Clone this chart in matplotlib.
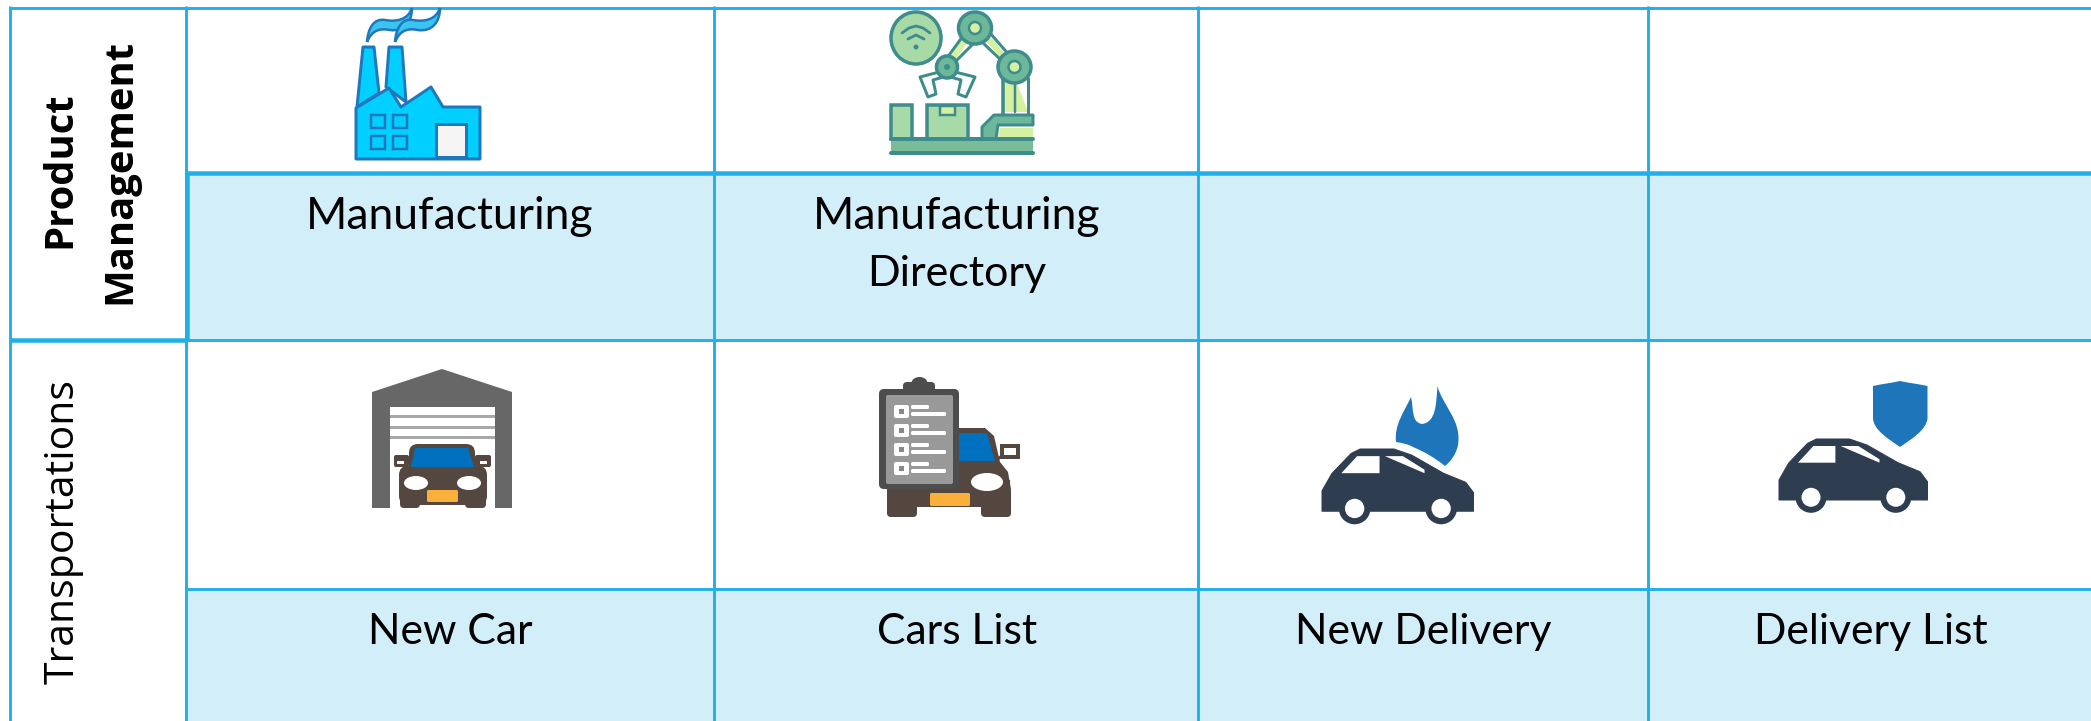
#!/usr/bin/env python
import matplotlib as mpl
mpl.use('Agg')
import matplotlib.pyplot as plt
from matplotlib.patches import Polygon, Rectangle, Ellipse, FancyBboxPatch, PathPatch
from matplotlib.path import Path

# table content
groups = ['Product\nManagement', 'Transportations']
row1_labels = ['Manufacturing', 'Manufacturing\nDirectory', '', '']
row2_labels = ['New Car', 'Cars List', 'New Delivery', 'Delivery List']

line_c = '#1FB0EA'
fill_c = '#D2EEF9'
W, H = 2091, 721
px = 0.72  # points per pixel at dpi 100

fig = plt.figure(figsize=(W/100, H/100), dpi=100)
ax = fig.add_axes([0, 0, 1, 1])
ax.set_xlim(0, W)
ax.set_ylim(H, 0)
ax.axis('off')

def poly(pts, fc, ec='none', lw=0, z=3, join='round'):
    ax.add_patch(Polygon(pts, closed=True, fc=fc, ec=ec, lw=lw*px, zorder=z, joinstyle=join))

def rect(x0, y0, x1, y1, fc, ec='none', lw=0, z=3):
    ax.add_patch(Rectangle((x0, y0), x1-x0, y1-y0, fc=fc, ec=ec, lw=lw*px, zorder=z))

def rrect(x0, y0, x1, y1, fc, r=2, z=3, ec='none', lw=0):
    ax.add_patch(FancyBboxPatch((x0+r, y0+r), x1-x0-2*r, y1-y0-2*r, boxstyle='round,pad=%g,rounding_size=%g' % (r, r),
                                fc=fc, ec=ec, lw=lw*px, zorder=z))

def oval(cx, cy, rx, ry, fc, ec='none', lw=0, z=3):
    ax.add_patch(Ellipse((cx, cy), 2*rx, 2*ry, fc=fc, ec=ec, lw=lw*px, zorder=z))

def seg(xs, ys, c, lw, z=3):
    ax.plot(xs, ys, color=c, lw=lw*px, zorder=z, solid_capstyle='round', solid_joinstyle='round')

def curve(pts, fc, ec='none', lw=0, z=3):
    codes = [Path.MOVETO] + [Path.CURVE4]*(len(pts)-1)
    ax.add_patch(PathPatch(Path(pts, codes), fc=fc, ec=ec, lw=lw*px, zorder=z))

# cell fills and grid
col_x = [185.5, 714, 1198, 1648]
thin = 2.9
rect(185, 173, W, 340, fill_c, z=1)
rect(185, 589, W, H, fill_c, z=1)

for x in [10] + col_x:
    ax.plot([x, x], [6, H], color=line_c, lw=thin*px, zorder=2, solid_capstyle='butt')
ax.plot([10, W], [7.5, 7.5], color=line_c, lw=thin*px, zorder=2, solid_capstyle='butt')
ax.plot([185, W], [173, 173], color=line_c, lw=4.5*px, zorder=2, solid_capstyle='butt')
ax.plot([185, W], [340, 340], color=line_c, lw=thin*px, zorder=2, solid_capstyle='butt')
ax.plot([10, 187], [340, 340], color=line_c, lw=4.5*px, zorder=2, solid_capstyle='butt')
ax.plot([186.5, 186.5], [173, 340], color=line_c, lw=4.5*px, zorder=2, solid_capstyle='butt')
ax.plot([185, W], [589, 589], color=line_c, lw=thin*px, zorder=2, solid_capstyle='butt')

# texts
for cx, s in zip([450, 957, 1423, 1871], row2_labels):
    ax.text(cx, 644, s, ha='center', va='baseline', fontsize=30.7, family='Lato', color='black', zorder=5)
row1_sizes = [32, 31]
for cx, s in zip([450, 957, 1423, 1871], row1_labels):
    for i, part in enumerate(s.split('\n')):
        ax.text(cx, 229 + 57*i, part, ha='center', va='baseline', fontsize=row1_sizes[i], family='Lato', color='black', zorder=5)

prod, mgmt = groups[0].split('\n')
ax.text(70, 170, prod, rotation=90, ha='center', va='baseline', rotation_mode='anchor',
        fontsize=28.8, family='Open Sans', fontweight='bold', color='black', zorder=5)
ax.text(130, 171, mgmt, rotation=90, ha='center', va='baseline', rotation_mode='anchor',
        fontsize=28.8, family='Open Sans', fontweight='bold', color='black', zorder=5)
ax.text(74, 531, groups[1], rotation=90, ha='center', va='baseline', rotation_mode='anchor',
        fontsize=29.5, family='Open Sans', color='black', zorder=5)

# factory icon
eb = '#1F78BE'
ef = '#00CFFF'
poly([(357, 107), (363, 47), (374, 47), (379, 93)], ef, eb, 3)
poly([(386, 87), (389, 47), (402, 47), (406, 102)], ef, eb, 3)
poly([(356, 159), (356, 108), (389, 88), (401, 107), (431, 87), (443, 107), (480, 107), (480, 159)], ef, eb, 3, z=4)
rect(436, 124, 466, 157, '#F5F5F5', eb, 3, z=5)
for wx in [371, 393]:
    for wy in [115, 136]:
        rect(wx, wy, wx+14, wy+13, ef, eb, 2.5, z=5)
for dx in [0, 28]:
    curve([(367+dx, 42), (368+dx, 28), (374+dx, 18), (385+dx, 20), (396+dx, 22), (408+dx, 20), (412+dx, 8),
           (412+dx, 22), (404+dx, 32), (390+dx, 30), (380+dx, 28), (372+dx, 30), (367+dx, 42)], '#3CC4F0', eb, 2.5)

# robot arm icon
et = '#3F8C8C'
oval(916, 38, 25, 26, '#A8DAA8', et, 3.5)
seg([902, 909, 916, 923, 930], [33, 28, 26, 28, 33], et, 2.8)
seg([908, 916, 924], [39, 35, 39], et, 2.8)
oval(916, 47, 2.5, 2.5, et)
poly([(960, 40), (968, 42), (955, 60), (950, 58)], '#D5F0A0', z=2.5)
poly([(985, 40), (992, 38), (1008, 58), (1002, 60)], '#D5F0A0', z=2.5)
seg([963, 944], [36, 62], et, 3)
seg([975, 955], [42, 62], et, 3)
seg([982, 1003], [42, 62], et, 3)
seg([990, 1010], [33, 56], et, 3)
poly([(1003, 78), (1015, 78), (1028, 112), (1003, 112)], '#D5F0A0', z=2.5)
seg([1003, 1003], [78, 114], et, 3.5)
seg([1028, 1028], [78, 114], et, 3)
seg([1015, 1015], [82, 112], et, 2.5)
oval(975, 28, 16.5, 16, '#6DB89A', et, 3.5, z=4)
oval(975, 28, 6, 6, '#D5F0A0', et, 2.5, z=5)
oval(1014.5, 67, 16.5, 16, '#6DB89A', et, 3.5, z=4)
oval(1014.5, 67, 6, 6, '#D5F0A0', et, 2.5, z=5)
seg([947, 920, 928, 936, 933, 947], [70, 77, 97, 94, 80, 76], et, 3)
seg([947, 975, 966, 958, 961, 947], [70, 77, 97, 94, 80, 76], et, 3)
oval(947, 67, 10.5, 11, '#6DB89A', et, 3.5, z=4)
oval(947, 67, 3, 3, et, z=5)
rect(891, 105, 912, 139, '#A8DAA8', et, 3.5)
rect(927, 105, 968, 139, '#A8DAA8', et, 3.5)
rect(940, 106, 955, 115, '#D5F0A0', et, 2.5, z=4)
poly([(982, 139), (982, 127), (994, 115), (1033, 115), (1033, 125), (998, 125), (996, 139)], '#6DB89A', et, 3)
poly([(1000, 128), (1033, 128), (1033, 139), (998, 139)], '#D5F0A0', z=2.5)
rect(891, 139, 1033, 153, '#78BC9A', z=3)
seg([891, 1033], [139, 139], et, 4, z=4)
seg([891, 1033], [153, 153], et, 4, z=4)

# garage icon
poly([(372, 392), (442, 369), (512, 392), (512, 508), (372, 508)], '#676767')
rect(390, 407, 495, 508, 'white', z=3.1)
for sy in [416, 427, 437]:
    rect(390, sy-1.5, 495, sy+1.5, '#A8A8A8', z=3.2)
eb2 = '#54473F'
rrect(409, 444, 475, 478, eb2, r=9, z=4)
rrect(399, 466, 487, 505, eb2, r=9, z=4)
rrect(400, 490, 420, 508, eb2, r=4, z=4)
rrect(465, 490, 486, 508, eb2, r=4, z=4)
rrect(394, 455, 409, 467, eb2, r=2, z=4)
rrect(475, 455, 491, 467, eb2, r=2, z=4)
rect(397, 461, 404, 464, 'white', z=5)
rect(480, 461, 487, 464, 'white', z=5)
poly([(415, 448), (468, 448), (474, 467), (411, 467)], '#0070BF', z=5)
oval(416, 483, 12, 7, 'white', z=5)
oval(469, 483, 12, 7, 'white', z=5)
rrect(427, 490, 458, 502, '#FBB03B', r=1.5, z=6)

# cars list icon
poly([(887, 480), (1010, 480), (1011, 507), (887, 507)], eb2, z=3)
poly([(959, 428), (985, 428), (994, 436), (1000, 462), (1008, 472), (1011, 490), (1011, 507), (959, 507)], eb2, z=3)
poly([(959, 433), (987, 433), (995, 461), (959, 461)], '#0070BF', z=3.5)
oval(987, 482, 16, 9, 'white', z=3.5)
rrect(887, 495, 917, 517, eb2, r=4, z=3.6)
rrect(981, 495, 1011, 517, eb2, r=4, z=3.6)
seg([996, 1002], [460, 456], eb2, 3, z=3.4)
rect(1002, 446, 1018, 457, 'white', eb2, 4, z=3.5)
rrect(930, 493, 970, 506, '#FBB03B', r=1.5, z=3.7)
rrect(879, 389, 959, 489, '#4D4D4D', r=5, z=4)
rrect(903, 382, 935, 392, '#4D4D4D', r=4, z=4)
oval(919.5, 383, 8, 6, '#4D4D4D', z=4)
rrect(886, 395, 953, 484, '#999999', r=2, z=5)
for i in range(4):
    ry = 405 + 19*i
    rrect(894, ry, 909, ry+13, 'white', r=2, z=6)
    rect(899, ry+4, 904, ry+9, '#888888', z=7)
    rrect(911, ry, 929, ry+4, 'white', r=1.5, z=6)
    rrect(911, ry+7, 946, ry+11, 'white', r=1.5, z=6)

# small side-view car used in the two delivery cells
car_c = '#2E3D50'
def car(x0, y0, s=1.0):
    pts = [(0, 61), (0, 41), (9.7, 24), (28.6, 4.3), (37.4, 0), (70.5, 0), (88, 6), (119, 23.7), (141, 32.7), (148.5, 42.7), (148.5, 61)]
    poly([(x0+a*s, y0+b*s) for a, b in pts], car_c, car_c, 1)
    w1 = [(19, 23.7), (34.4, 7), (56.4, 7), (56.4, 23.7)]
    w2 = [(61.7, 7), (79.3, 7), (100.5, 20.3), (100.5, 23.7)]
    poly([(x0+a*s, y0+b*s) for a, b in w1], 'white', z=4)
    poly([(x0+a*s, y0+b*s) for a, b in w2], 'white', z=4)
    for wx in [32, 116.8]:
        oval(x0+wx*s, y0+58.3*s, 15.5*s, 15.5*s, car_c, z=4)
        oval(x0+wx*s, y0+58.3*s, 9.5*s, 9.5*s, 'white', z=5)

car(1322, 449, 1.02)
car(1779, 439)

# flame and shield
blue = '#1F75BA'
curve([(1396, 442), (1394, 425), (1404, 412), (1411, 397),
       (1414, 410), (1411, 422), (1422, 424),
       (1436, 422), (1436, 405), (1437.5, 386),
       (1442, 405), (1462, 420), (1458, 445),
       (1456, 455), (1450, 462), (1445, 466),
       (1435, 458), (1425, 452), (1413, 447),
       (1408, 444), (1402, 443), (1396, 442)], blue)
curve([(1873, 386), (1882, 384), (1891, 383), (1900, 381),
       (1909, 383), (1918, 384), (1927.5, 386),
       (1927.5, 397), (1927.5, 407), (1927.5, 418),
       (1927, 430), (1910, 440), (1900, 447),
       (1890, 440), (1873, 430), (1873, 418),
       (1873, 407), (1873, 397), (1873, 386)], blue)

plt.savefig('out.png', dpi=100)
plt.close()
